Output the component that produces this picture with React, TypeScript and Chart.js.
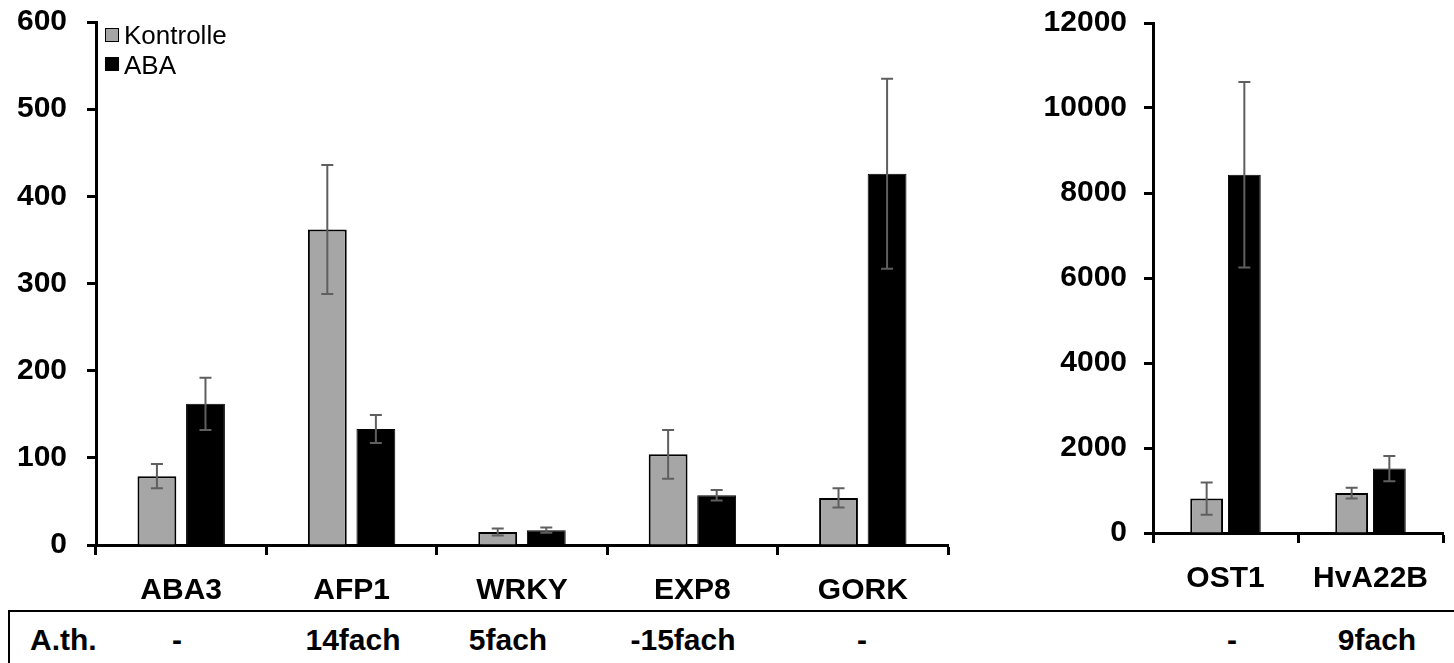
import React, { useEffect, useRef } from "react";
import { Chart, registerables } from "chart.js";
Chart.register(...registerables);

// ---- data ----
const leftCategories = ["ABA3", "AFP1", "WRKY", "EXP8", "GORK"];
const leftKontrolle = [79, 362, 15, 104, 54];
const leftKontrolleErr = [14, 74, 4, 28, 11];
const leftABA = [162, 133, 17, 57, 426];
const leftABAErr = [30, 16, 3, 6, 109];
const leftYMax = 600;
const leftYStep = 100;

const rightCategories = ["OST1", "HvA22B"];
const rightKontrolle = [810, 940];
const rightKontrolleErr = [380, 126];
const rightABA = [8430, 1515];
const rightABAErr = [2180, 296];
const rightYMax = 12000;
const rightYStep = 2000;

const seriesNames = ["Kontrolle", "ABA"];
const tableLabel = "A.th.";
const tableValues = ["-", "14fach", "5fach", "-15fach", "-", "-", "9fach"];

// ---- layout / style ----
const tableCenters = [177, 353, 508, 683, 862, 1232, 1377];
const FONT = "'Liberation Sans', Arial, sans-serif";
const GRAY = "#A6A6A6";
const ERR = "#5f5f5f";

const errorBarPlugin = {
  id: "errorBars",
  afterDatasetsDraw(chart: any) {
    const ctx = chart.ctx;
    const yScale = chart.scales.y;
    chart.data.datasets.forEach((ds: any, di: number) => {
      const meta = chart.getDatasetMeta(di);
      meta.data.forEach((bar: any, i: number) => {
        const v = ds.data[i];
        const e = ds.errors[i];
        const x = bar.x;
        const yt = yScale.getPixelForValue(v + e);
        const yb = yScale.getPixelForValue(v - e);
        ctx.save();
        ctx.strokeStyle = ERR;
        ctx.lineWidth = 2;
        ctx.beginPath();
        ctx.moveTo(x, yt);
        ctx.lineTo(x, yb);
        ctx.moveTo(x - 6, yt);
        ctx.lineTo(x + 6, yt);
        ctx.moveTo(x - 6, yb);
        ctx.lineTo(x + 6, yb);
        ctx.stroke();
        ctx.restore();
      });
    });
  },
};

type Geom = {
  yAxisWidth: number;
  xAxisHeight: number;
  padTop: number;
  padRight: number;
  catPct: number;
  barPct: number;
  yPad: number;
};

function makeChart(
  canvas: HTMLCanvasElement,
  cats: string[],
  k: number[],
  kErr: number[],
  a: number[],
  aErr: number[],
  yMax: number,
  yStep: number,
  g: Geom
) {
  return new Chart(canvas, {
    type: "bar",
    data: {
      labels: cats,
      datasets: [
        {
          label: seriesNames[0],
          data: k,
          errors: kErr,
          backgroundColor: GRAY,
          borderColor: "#000",
          borderWidth: 2,
          categoryPercentage: g.catPct,
          barPercentage: g.barPct,
        } as any,
        {
          label: seriesNames[1],
          data: a,
          errors: aErr,
          backgroundColor: "#000",
          borderColor: "#000",
          borderWidth: 1,
          categoryPercentage: g.catPct,
          barPercentage: g.barPct,
        } as any,
      ],
    },
    options: {
      responsive: false,
      animation: false,
      devicePixelRatio: 1,
      layout: { padding: { top: g.padTop, right: g.padRight, left: 0, bottom: 0 } },
      plugins: { legend: { display: false }, tooltip: { enabled: false } },
      scales: {
        x: {
          grid: {
            display: true,
            drawOnChartArea: false,
            offset: true,
            tickLength: 10,
            tickColor: "#000",
            tickWidth: 3,
          },
          border: { display: true, color: "#000", width: 3 },
          ticks: {
            color: "#000",
            padding: 18,
            maxRotation: 0,
            autoSkip: false,
            font: { family: FONT, size: 30, weight: "bold" },
          },
          afterFit: (s: any) => {
            s.height = g.xAxisHeight;
          },
        },
        y: {
          min: 0,
          max: yMax,
          grid: {
            display: true,
            drawOnChartArea: false,
            tickLength: 9,
            tickColor: "#000",
            tickWidth: 3,
          },
          border: { display: true, color: "#000", width: 3 },
          ticks: {
            stepSize: yStep,
            color: "#000",
            padding: g.yPad,
            font: { family: FONT, size: 30, weight: "bold" },
            callback: (v: any) => String(v),
          },
          afterFit: (s: any) => {
            s.width = g.yAxisWidth;
          },
        },
      },
    } as any,
    plugins: [errorBarPlugin],
  });
}

export default function App() {
  const leftRef = useRef<HTMLCanvasElement>(null);
  const rightRef = useRef<HTMLCanvasElement>(null);

  useEffect(() => {
    const c1 = makeChart(
      leftRef.current!,
      leftCategories,
      leftKontrolle,
      leftKontrolleErr,
      leftABA,
      leftABAErr,
      leftYMax,
      leftYStep,
      { yAxisWidth: 96, xAxisHeight: 60, padTop: 22, padRight: 52, catPct: 0.57, barPct: 0.8, yPad: 20 }
    );
    const c2 = makeChart(
      rightRef.current!,
      rightCategories,
      rightKontrolle,
      rightKontrolleErr,
      rightABA,
      rightABAErr,
      rightYMax,
      rightYStep,
      { yAxisWidth: 153, xAxisHeight: 72, padTop: 26, padRight: 11, catPct: 0.52, barPct: 0.87, yPad: 17 }
    );
    return () => {
      c1.destroy();
      c2.destroy();
    };
  }, []);

  return (
    <div
      style={{
        position: "fixed",
        left: 0,
        top: 0,
        width: 1454,
        height: 663,
        overflow: "hidden",
        background: "#fff",
        fontFamily: FONT,
      }}
    >
      <canvas
        ref={leftRef}
        width={1000}
        height={621}
        style={{ position: "absolute", left: 0, top: -16, width: 1000, height: 621 }}
      />
      <canvas
        ref={rightRef}
        width={454}
        height={617}
        style={{ position: "absolute", left: 1000, top: -12, width: 454, height: 617 }}
      />
      {/* legend */}
      <div
        style={{
          position: "absolute",
          left: 105,
          top: 28,
          width: 12,
          height: 12,
          background: GRAY,
          border: "1px solid #000",
        }}
      />
      <div style={{ position: "absolute", left: 124, top: 22, fontSize: 26, lineHeight: "26px", color: "#000" }}>
        {seriesNames[0]}
      </div>
      <div
        style={{
          position: "absolute",
          left: 105,
          top: 57,
          width: 14,
          height: 14,
          background: "#000",
        }}
      />
      <div style={{ position: "absolute", left: 124, top: 52, fontSize: 26, lineHeight: "26px", color: "#000" }}>
        {seriesNames[1]}
      </div>
      {/* table */}
      <div
        style={{
          position: "absolute",
          left: 8,
          top: 610,
          width: 1600,
          height: 120,
          border: "2px solid #000",
          boxSizing: "border-box",
        }}
      />
      <div
        style={{
          position: "absolute",
          left: 30,
          top: 625,
          fontSize: 30,
          lineHeight: "30px",
          fontWeight: "bold",
          color: "#000",
        }}
      >
        {tableLabel}
      </div>
      {tableValues.map((t, i) => (
        <div
          key={i}
          style={{
            position: "absolute",
            left: tableCenters[i] - 100,
            width: 200,
            textAlign: "center",
            top: 625,
            fontSize: 30,
            lineHeight: "30px",
            fontWeight: "bold",
            color: "#000",
          }}
        >
          {t}
        </div>
      ))}
    </div>
  );
}
